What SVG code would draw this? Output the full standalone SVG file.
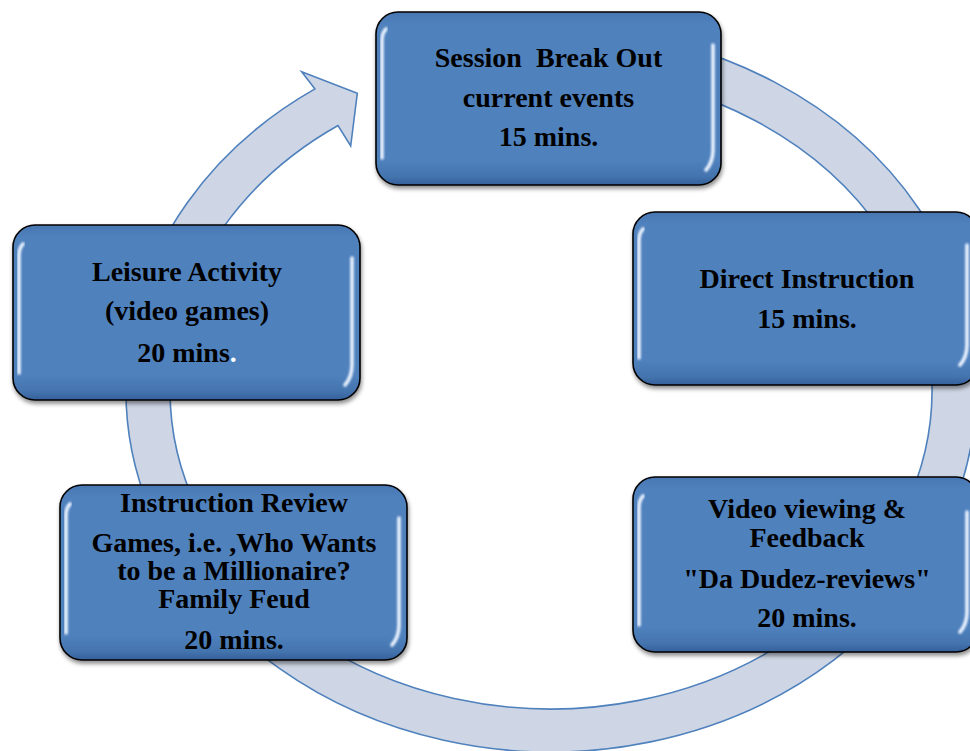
<svg xmlns="http://www.w3.org/2000/svg" width="970" height="751" viewBox="0 0 970 751">
  <defs>
    <linearGradient id="boxFill" x1="0" y1="0" x2="0" y2="1">
      <stop offset="0" stop-color="#4877B3"/>
      <stop offset="0.07" stop-color="#4F81BD"/>
      <stop offset="0.86" stop-color="#4F81BD"/>
      <stop offset="0.95" stop-color="#4474AE"/>
      <stop offset="1" stop-color="#35609A"/>
    </linearGradient>
    <filter id="shadow" x="-10%" y="-10%" width="120%" height="130%">
      <feDropShadow dx="1" dy="3" stdDeviation="2" flood-color="#000" flood-opacity="0.45"/>
    </filter>
    <filter id="glow" x="-50%" y="-10%" width="200%" height="120%">
      <feGaussianBlur stdDeviation="0.8"/>
    </filter>
  </defs>
  <style>
    .box { fill: url(#boxFill); stroke: #000; stroke-width: 1.6; filter: url(#shadow); }
    .hl { fill: none; stroke: #EAF3FF; stroke-width: 3.6; stroke-linecap: round; filter: url(#glow); }
    .t { font-family: "Liberation Serif", "Times New Roman", serif; font-weight: bold; font-size: 28px; fill: #000; text-anchor: middle; white-space: pre; }
    .ring { fill: #CED6E5; stroke: #4F81BD; stroke-width: 1.6; stroke-linejoin: miter; }
  </style>

  <g id="connectors">
    <path class="ring" d="M 315 88.9 A 425 362 0 1 0 600 30.4 L 600 73.6 A 381 319 0 1 1 338 125.5 L 350.7 146 L 357.3 93.3 L 301.7 71.7 Z"/>
  </g>

  <g id="node-session">
    <rect class="box" x="376" y="12" width="345" height="173" rx="22"/>
    <path class="hl" d="M 382 158 L 382 40 Q 382 33 386 29"/>
    <path class="hl" d="M 713 45 L 713 150 Q 713 162 706 170"/>
    <text class="t" x="548.5" y="67">Session  Break Out</text>
    <text class="t" x="548.5" y="107">current events</text>
    <text class="t" x="548.5" y="146">15 mins.</text>
  </g>

  <g id="node-leisure">
    <rect class="box" x="13" y="225" width="347" height="175" rx="22"/>
    <path class="hl" d="M 19 373 L 19 255 Q 19 248 23 244"/>
    <path class="hl" d="M 352 258 L 352 365 Q 352 377 345 385"/>
    <text class="t" x="187" y="281">Leisure Activity</text>
    <text class="t" x="187" y="320">(video games)</text>
    <text class="t" x="187" y="362">20 mins<tspan fill="#FFFFFF">.</tspan></text>
  </g>

  <g id="node-direct">
    <rect class="box" x="633" y="212" width="345" height="173" rx="22"/>
    <path class="hl" d="M 639 358 L 639 240 Q 639 233 643 229"/>
    <path class="hl" d="M 967 245 L 967 345 Q 967 357 960 365"/>
    <text class="t" x="807" y="288">Direct Instruction</text>
    <text class="t" x="807" y="328">15 mins.</text>
  </g>

  <g id="node-review">
    <rect class="box" x="60" y="485" width="347" height="175" rx="22"/>
    <path class="hl" d="M 66 633 L 66 515 Q 66 508 70 504"/>
    <path class="hl" d="M 399 518 L 399 625 Q 399 637 392 645"/>
    <text class="t" x="234" y="512">Instruction Review</text>
    <text class="t" x="234" y="552">Games, i.e. ,Who Wants</text>
    <text class="t" x="234" y="580">to be a Millionaire?</text>
    <text class="t" x="234" y="608">Family Feud</text>
    <text class="t" x="234" y="649">20 mins.</text>
  </g>

  <g id="node-video">
    <rect class="box" x="633" y="477" width="345" height="175" rx="22"/>
    <path class="hl" d="M 639 625 L 639 507 Q 639 500 643 496"/>
    <path class="hl" d="M 967 512 L 967 612 Q 967 624 960 632"/>
    <text class="t" x="807" y="518">Video viewing &amp;</text>
    <text class="t" x="807" y="547">Feedback</text>
    <text class="t" x="807" y="588">"Da Dudez-reviews"</text>
    <text class="t" x="807" y="627">20 mins.</text>
  </g>
</svg>
